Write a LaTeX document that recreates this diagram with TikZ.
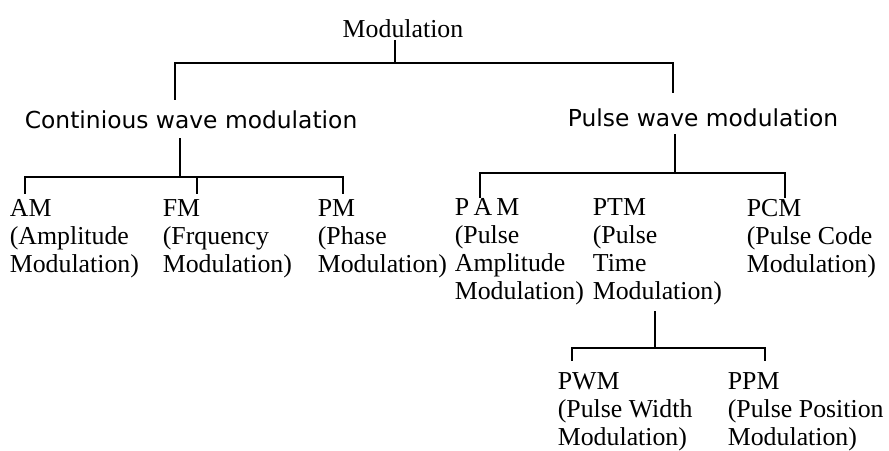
\documentclass[tikz,border=0pt]{standalone}
\usepackage{fontspec}
\setmainfont{Liberation Serif}
\newfontfamily\branchfont{DejaVu Sans}
\usepackage{tikz}
\usetikzlibrary{positioning, calc}

\begin{document}
\begin{tikzpicture}[x=0.02cm, y=-0.02cm]
    \tikzstyle{leaf} = [anchor=base west, align=left, inner sep=2pt, font=\fontsize{14.7}{15.8}\selectfont]
    \tikzstyle{branch} = [anchor=base west, inner sep=2pt, font=\branchfont\fontsize{13.3}{16}\selectfont]
    \tikzstyle{tree} = [line width=1.5pt, line cap=rect]

    \useasboundingbox (0,0) rectangle (889,450);

    % Root
    \node[anchor=base, inner sep=2pt, font=\fontsize{14.7}{16}\selectfont] (root) at (403,37) {Modulation};

    % Level 1
    \node[branch] (cw) at (21,128) {Continious wave modulation};
    \node[branch] (pw) at (564,126) {Pulse wave modulation};

    % Level 2 (placed at the baseline of the last line)
    \node[leaf] (am) at (6,272) {AM\\(Amplitude\\Modulation)};
    \node[leaf] (fm) at (159,272) {FM\\(Frquency\\Modulation)};
    \node[leaf] (pm) at (314,272) {PM\\(Phase\\Modulation)};
    \node[leaf] (pam) at (451,299) {P\,A\,M\\(Pulse\\Amplitude\\Modulation)};
    \node[leaf] (ptm) at (589,299) {PTM\\(Pulse\\Time\\Modulation)};
    \node[leaf] (pcm) at (743,272) {PCM\\(Pulse Code\\Modulation)};

    % Level 3
    \node[leaf] (pwm) at (554,445) {PWM\\(Pulse Width\\Modulation)};
    \node[leaf] (ppm) at (724,445) {PPM\\(Pulse Position\\Modulation)};

    % Joints
    \coordinate (rootbus) at (395,63);
    \coordinate (cw-in) at (175,99);
    \coordinate (pw-in) at (673,92);
    \coordinate (cwbus) at (180,177);
    \coordinate (am-in) at (25,193);
    \coordinate (fm-in) at (197,193);
    \coordinate (pm-in) at (343,193);
    \coordinate (pwbus) at (675,173);
    \coordinate (pam-in) at (480,197);
    \coordinate (pcm-in) at (785,197);
    \coordinate (ptmbus) at (655,348);
    \coordinate (pwm-in) at (572,360);
    \coordinate (ppm-in) at (765,360);

    \draw[tree] (rootbus |- root.south) -- (rootbus);
    \draw[tree] (cw-in) |- (rootbus) -| (pw-in);

    \draw[tree, shorten <=4pt] (cwbus |- cw.south) -- (cwbus);
    \draw[tree] (am-in) |- (cwbus) -| (pm-in);
    \draw[tree] (fm-in) -- (fm-in |- cwbus);

    \draw[tree, shorten <=3pt] (pwbus |- pw.south) -- (pwbus);
    \draw[tree] (pam-in) |- (pwbus) -| (pcm-in);

    \draw[tree, shorten <=2pt] (ptmbus |- ptm.south) -- (ptmbus);
    \draw[tree] (pwm-in) |- (ptmbus) -| (ppm-in);
\end{tikzpicture}
\end{document}
